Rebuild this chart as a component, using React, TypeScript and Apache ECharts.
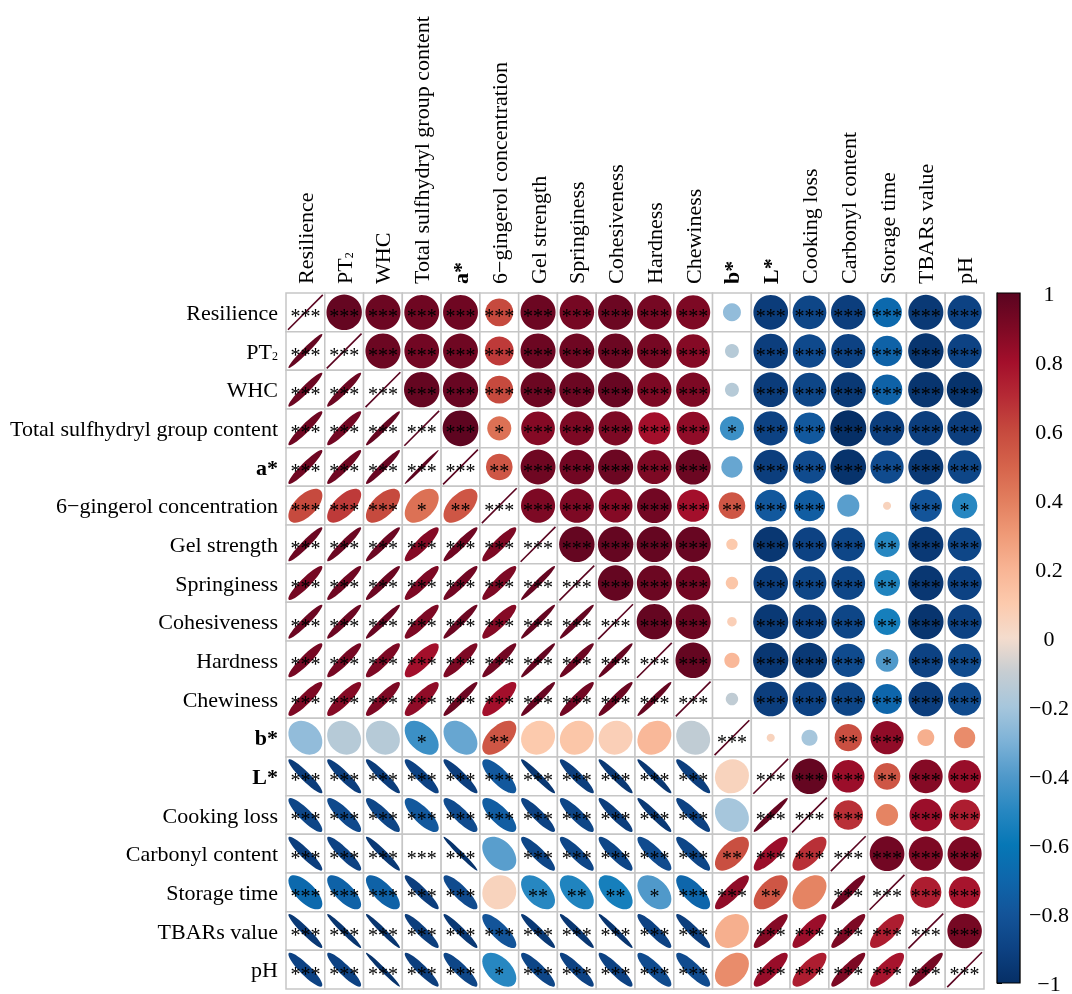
import React, { useEffect, useRef } from 'react';
import * as echarts from 'echarts';

const variables = [
  'Resilience', 'PT2', 'WHC', 'Total sulfhydryl group content', 'a*',
  '6\u2212gingerol concentration', 'Gel strength', 'Springiness', 'Cohesiveness',
  'Hardness', 'Chewiness', 'b*', 'L*', 'Cooking loss', 'Carbonyl content',
  'Storage time', 'TBARs value', 'pH',
];

// upper-triangle correlations, row i vs columns i+1..17
const corrResilience = [0.97, 0.95, 0.94, 0.94, 0.60, 0.95, 0.92, 0.95, 0.92, 0.90, -0.25, -0.93, -0.88, -0.92, -0.68, -0.95, -0.90];
const corrPT2 = [0.95, 0.93, 0.94, 0.65, 0.95, 0.94, 0.95, 0.92, 0.88, -0.15, -0.92, -0.86, -0.90, -0.72, -0.97, -0.90];
const corrWHC = [0.97, 0.96, 0.60, 0.95, 0.95, 0.96, 0.90, 0.90, -0.15, -0.93, -0.88, -0.95, -0.72, -0.97, -0.98];
const corrTSH = [0.99, 0.45, 0.88, 0.90, 0.90, 0.80, 0.85, -0.45, -0.90, -0.78, -1.00, -0.92, -0.92, -0.92];
const corrA = [0.55, 0.94, 0.93, 0.95, 0.90, 0.95, -0.35, -0.92, -0.85, -0.98, -0.85, -0.95, -0.88];
const corrGingerol = [0.90, 0.90, 0.88, 0.93, 0.80, 0.55, -0.78, -0.75, -0.38, 0.05, -0.80, -0.50];
const corrGel = [0.97, 0.97, 0.97, 0.96, 0.10, -0.96, -0.90, -0.88, -0.50, -0.95, -0.88];
const corrSpring = [0.97, 0.95, 0.93, 0.12, -0.92, -0.88, -0.88, -0.52, -0.96, -0.90];
const corrCohes = [0.97, 0.95, 0.07, -0.95, -0.92, -0.88, -0.55, -0.97, -0.90];
const corrHard = [0.97, 0.18, -0.96, -0.95, -0.85, -0.40, -0.90, -0.85];
const corrChew = [-0.12, -0.92, -0.90, -0.88, -0.70, -0.92, -0.85];
const corrB = [0.05, -0.20, 0.58, 0.85, 0.22, 0.35];
const corrL = [0.97, 0.82, 0.55, 0.88, 0.83];
const corrCook = [0.68, 0.38, 0.82, 0.75];
const corrCarb = [0.93, 0.90, 0.90];
const corrStorage = [0.75, 0.78];
const corrTBARs = [0.92];
const corrUpper = [corrResilience, corrPT2, corrWHC, corrTSH, corrA, corrGingerol, corrGel, corrSpring,
  corrCohes, corrHard, corrChew, corrB, corrL, corrCook, corrCarb, corrStorage, corrTBARs];

// significance stars (upper triangle, same layout)
const sigUpper = [
  [3, 3, 3, 3, 3, 3, 3, 3, 3, 3, 0, 3, 3, 3, 3, 3, 3],
  [3, 3, 3, 3, 3, 3, 3, 3, 3, 0, 3, 3, 3, 3, 3, 3],
  [3, 3, 3, 3, 3, 3, 3, 3, 0, 3, 3, 3, 3, 3, 3],
  [3, 1, 3, 3, 3, 3, 3, 1, 3, 3, 3, 3, 3, 3],
  [2, 3, 3, 3, 3, 3, 0, 3, 3, 3, 3, 3, 3],
  [3, 3, 3, 3, 3, 2, 3, 3, 0, 0, 3, 1],
  [3, 3, 3, 3, 0, 3, 3, 3, 2, 3, 3],
  [3, 3, 3, 0, 3, 3, 3, 2, 3, 3],
  [3, 3, 0, 3, 3, 3, 2, 3, 3],
  [3, 0, 3, 3, 3, 1, 3, 3],
  [0, 3, 3, 3, 3, 3, 3],
  [0, 0, 2, 3, 0, 0],
  [3, 3, 2, 3, 3],
  [3, 0, 3, 3],
  [3, 3, 3],
  [3, 3],
  [3],
];

const paletteValues = [-1.0, -0.9, -0.8, -0.7, -0.6, -0.5, -0.4, -0.3, -0.2, -0.1, 0.0, 0.1, 0.2, 0.3, 0.4, 0.5, 0.6, 0.7, 0.8, 0.9, 1.0];
const paletteColors = ['#062f66', '#0d4283', '#135499', '#0e66ab', '#0677b6', '#2787c1', '#5099ca', '#7db2d7', '#a6c6dc', '#c6cdd2',
  '#f4dccd', '#fccaad', '#f8b494', '#ef9a77', '#e27e5e', '#d5634b', '#c64a3e', '#b62a35', '#a30f2b', '#7d0924', '#5a0420'];

const FONT = 'Liberation Serif';

function hexToRgb(h: string) {
  const n = parseInt(h.slice(1), 16);
  return [(n >> 16) & 255, (n >> 8) & 255, n & 255];
}
function colorFor(v: number) {
  const x = Math.max(-1, Math.min(1, v));
  for (let k = 0; k < paletteValues.length - 1; k++) {
    const a = paletteValues[k], b = paletteValues[k + 1];
    if (x >= a && x <= b) {
      const t = (x - a) / (b - a);
      const ca = hexToRgb(paletteColors[k]), cb = hexToRgb(paletteColors[k + 1]);
      const c = ca.map((q, i) => Math.round(q + (cb[i] - q) * t));
      return `rgb(${c[0]},${c[1]},${c[2]})`;
    }
  }
  return paletteColors[paletteColors.length - 1];
}

function buildCells() {
  const n = variables.length;
  const out: number[][] = [];
  for (let i = 0; i < n; i++) {
    for (let j = 0; j < n; j++) {
      let r = 1, s = 3;
      if (i < j) { r = corrUpper[i][j - i - 1]; s = sigUpper[i][j - i - 1]; }
      else if (i > j) { r = corrUpper[j][i - j - 1]; s = sigUpper[j][i - j - 1]; }
      out.push([j, i, r, s]);
    }
  }
  return out;
}

const labelFormatter = (v: string) => {
  if (v === 'PT2') return '{n|PT}{s|2}';
  if (v === 'a*' || v === 'b*' || v === 'L*') return '{b|' + v + '}';
  return v;
};
const labelRich = {
  n: { fontSize: 22, fontFamily: FONT, color: '#000', verticalAlign: 'bottom' },
  s: { fontSize: 12, fontFamily: FONT, color: '#000', verticalAlign: 'bottom', lineHeight: 10 },
  b: { fontSize: 22, fontFamily: FONT, color: '#000', fontWeight: 'bold' },
};

export default function App() {
  const ref = useRef<HTMLDivElement>(null);
  useEffect(() => {
    const chart = echarts.init(ref.current as HTMLDivElement, null, { renderer: 'svg' });
    const cells = buildCells();
    const gradient = new echarts.graphic.LinearGradient(0, 0, 0, 1,
      paletteValues.map((v, k) => ({ offset: (1 - v) / 2, color: paletteColors[k] })).sort((a, b) => a.offset - b.offset));

    const option: any = {
      animation: false,
      textStyle: { fontFamily: FONT },
      grid: [
        { left: 286, top: 293, width: 698, height: 696 },
        { left: 997, top: 293, width: 26, height: 697 },
      ],
      xAxis: [
        {
          type: 'category', data: variables, position: 'top', gridIndex: 0,
          axisLine: { show: false }, axisTick: { show: false }, splitLine: { show: false },
          axisLabel: { interval: 0, rotate: -90, margin: 9, color: '#000', fontSize: 22, fontFamily: FONT, formatter: labelFormatter, rich: labelRich },
        },
        { type: 'value', gridIndex: 1, show: false, min: 0, max: 1 },
      ],
      yAxis: [
        {
          type: 'category', data: variables, inverse: true, gridIndex: 0,
          axisLine: { show: false }, axisTick: { show: false }, splitLine: { show: false },
          axisLabel: { interval: 0, margin: 8, color: '#000', fontSize: 22, fontFamily: FONT, formatter: labelFormatter, rich: labelRich },
        },
        {
          type: 'value', gridIndex: 1, min: -1, max: 1, interval: 0.2, position: 'right',
          axisLine: { show: true, lineStyle: { color: '#000', width: 1.2 } },
          axisTick: { show: true, inside: false, length: 5, lineStyle: { color: '#000', width: 1 } },
          splitLine: { show: false },
          axisLabel: {
            color: '#000', fontSize: 22, fontFamily: FONT, align: 'center', margin: 29,
            formatter: (v: number) => {
              const r = Math.round(v * 10) / 10;
              return String(r).replace('-', '\u2212');
            },
          },
        },
      ],
      series: [
        {
          type: 'custom', xAxisIndex: 0, yAxisIndex: 0, data: cells,
          renderItem: (params: any, api: any) => {
            const xi = api.value(0), yi = api.value(1), r = api.value(2), st = api.value(3);
            const c = api.coord([xi, yi]);
            const sz = api.size([1, 1]);
            const w = sz[0], h = sz[1];
            const half = Math.min(w, h) / 2;
            const col = colorFor(r);
            const children: any[] = [
              { type: 'rect', shape: { x: c[0] - w / 2, y: c[1] - h / 2, width: w, height: h }, style: { fill: '#fff', stroke: '#c6c6c6', lineWidth: 1.5 } },
            ];
            if (xi === yi) {
              const R = half * 0.9;
              children.push({ type: 'line', shape: { x1: c[0] - R, y1: c[1] + R, x2: c[0] + R, y2: c[1] - R }, style: { stroke: colorFor(1), lineWidth: 1.6 } });
            } else if (xi > yi) {
              const rad = half * 0.93 * Math.sqrt(Math.abs(r));
              children.push({ type: 'circle', shape: { cx: c[0], cy: c[1], r: rad }, style: { fill: col } });
            } else {
              const R = half * 0.88;
              children.push({
                type: 'ellipse', x: c[0], y: c[1], rotation: Math.PI / 4,
                shape: { cx: 0, cy: 0, rx: R * Math.sqrt(1 + r), ry: R * Math.sqrt(Math.max(0.0, 1 - r)) },
                style: { fill: col },
              });
            }
            if (st > 0) {
              children.push({
                type: 'text', x: c[0], y: c[1] + 4,
                style: { text: '*'.repeat(st), fill: '#000', fontSize: 20, fontFamily: FONT, align: 'center', verticalAlign: 'middle' },
              });
            }
            return { type: 'group', children };
          },
        },
        {
          type: 'custom', xAxisIndex: 1, yAxisIndex: 1, data: [[0.5, 0]],
          renderItem: (params: any) => {
            const cs = params.coordSys;
            return { type: 'rect', shape: { x: cs.x, y: cs.y, width: cs.width, height: cs.height }, style: { fill: gradient, stroke: '#000', lineWidth: 1.2 } };
          },
        },
      ],
    };
    chart.setOption(option);
    return () => chart.dispose();
  }, []);
  return <div ref={ref} style={{ position: 'fixed', left: 0, top: 0, width: 1072, height: 994 }} />;
}
